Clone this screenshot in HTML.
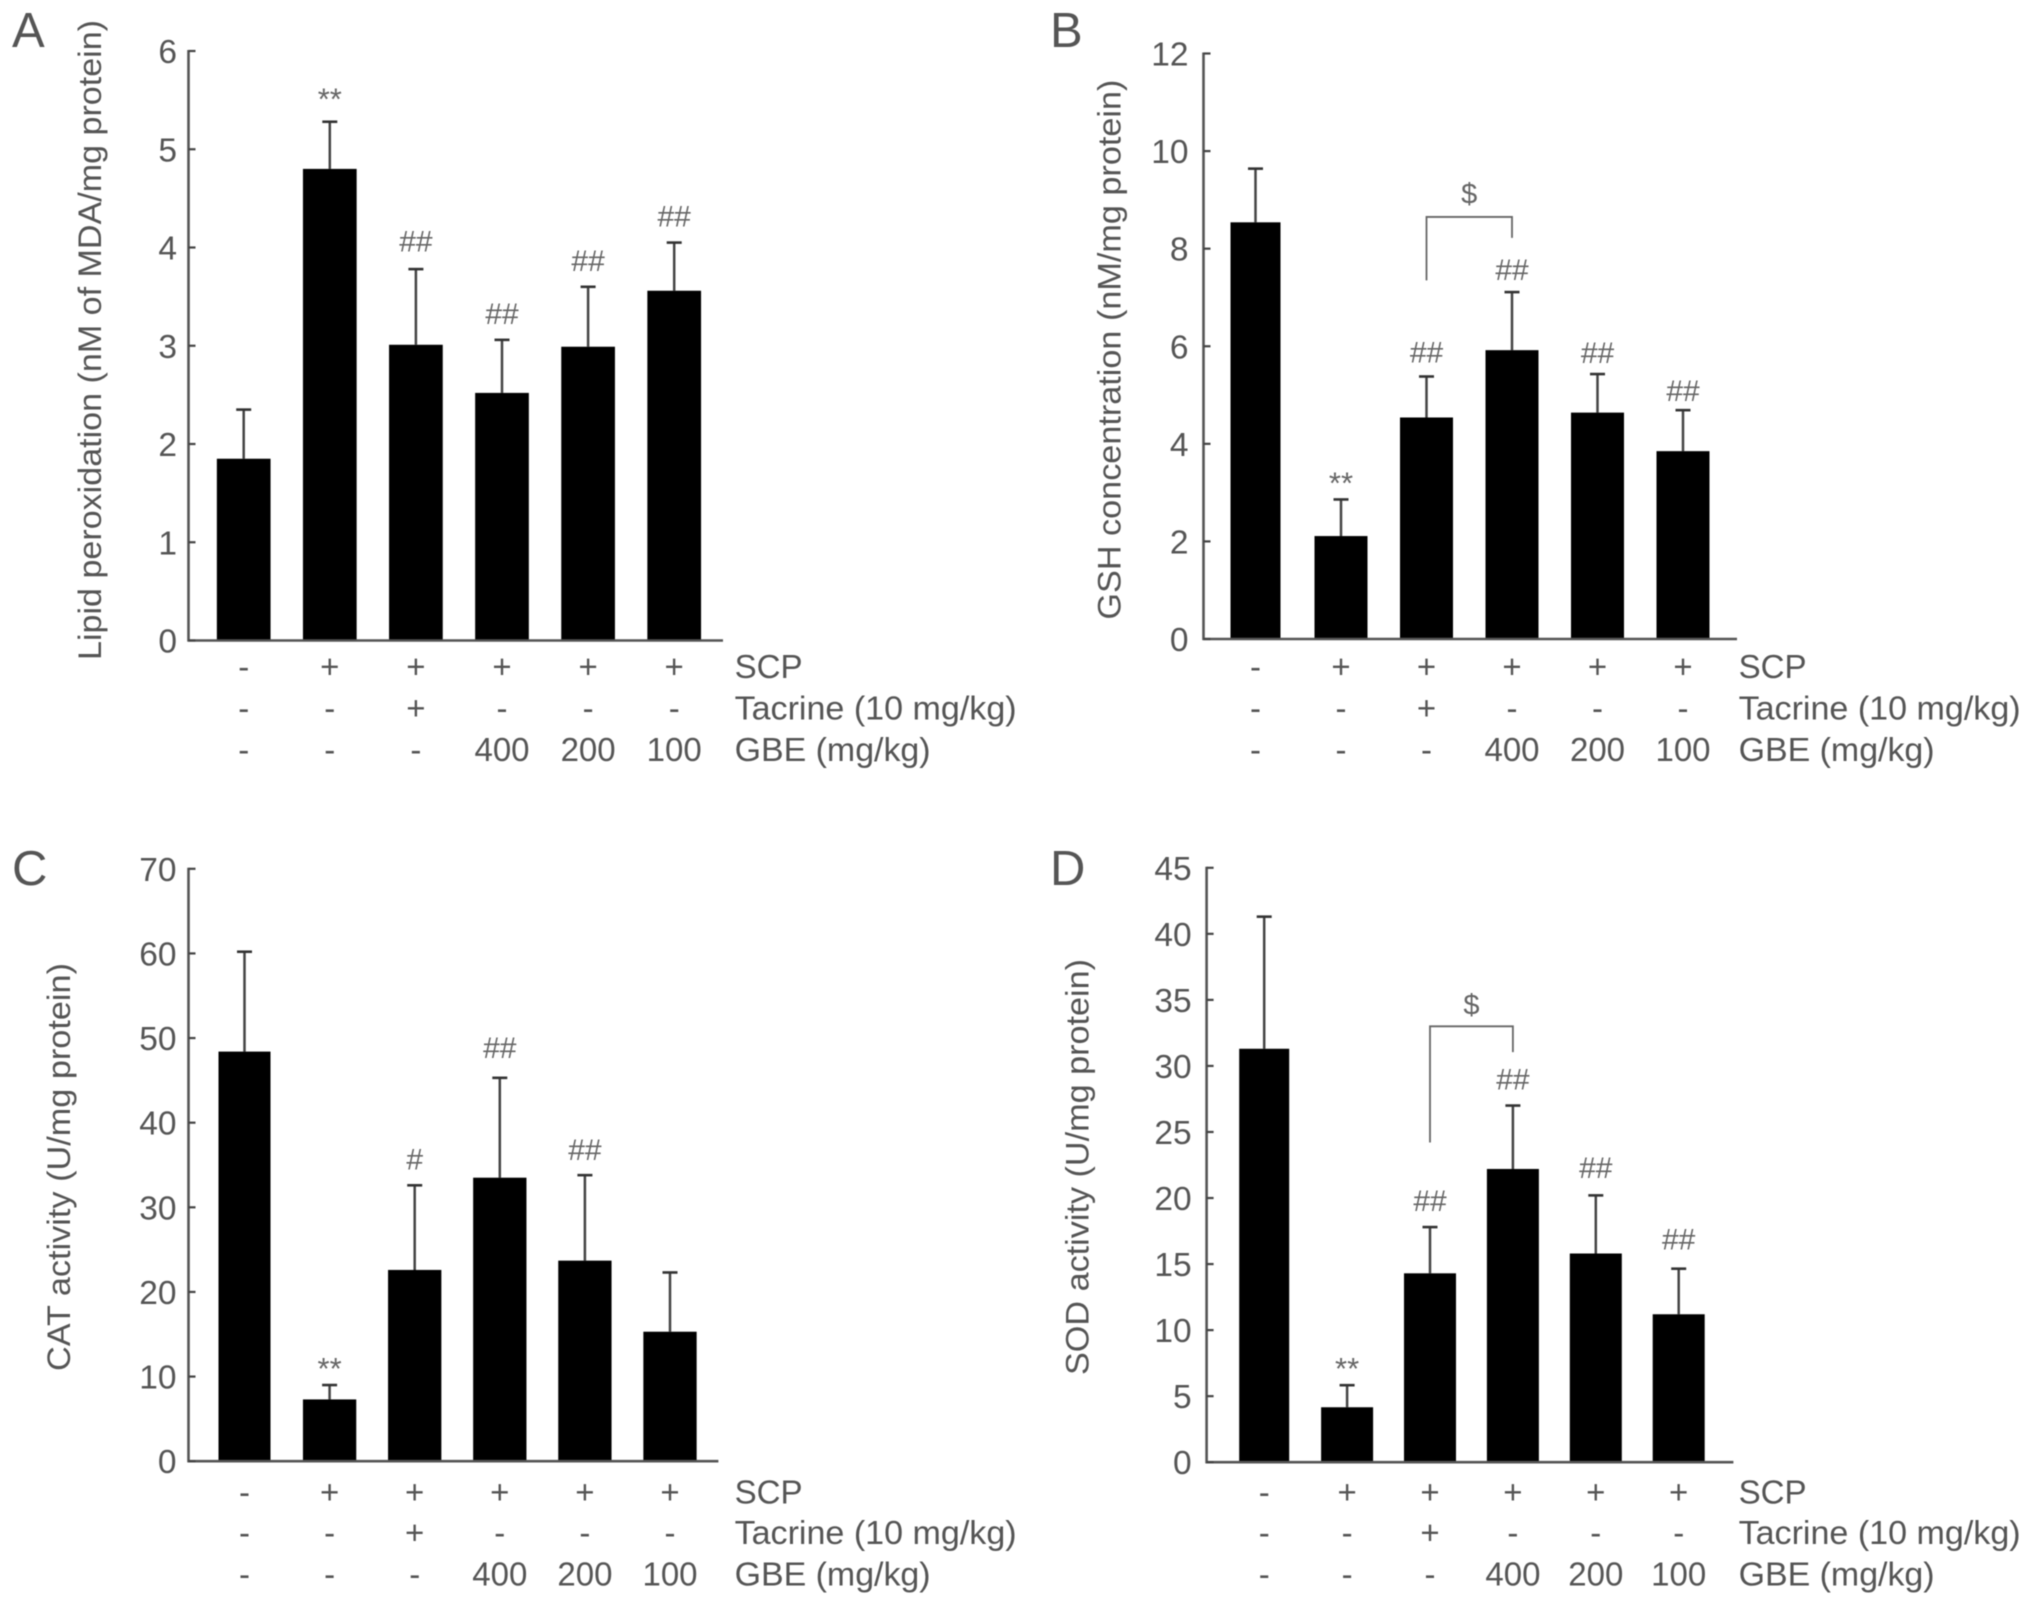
<!DOCTYPE html>
<html lang="en">
<head>
<meta charset="utf-8">
<title>Oxidative stress markers, panels A to D</title>
<style>
html,body{margin:0;padding:0;background:#fff;}
svg{display:block;filter:blur(0.6px);}
text{font-family:"Liberation Sans",Arial,sans-serif;fill:#555;}
</style>
</head>
<body>
<svg id="figure" xmlns="http://www.w3.org/2000/svg" width="2031" height="1605" viewBox="0 0 2031 1605"></svg>
<script>
// ---- Data ----
const rowScp = ['-', '+', '+', '+', '+', '+'];
const rowTacrine = ['-', '-', '+', '-', '-', '-'];
const rowGbe = ['-', '-', '-', '400', '200', '100'];
const rowLabels = ['SCP', 'Tacrine (10 mg/kg)', 'GBE (mg/kg)'];

const ticksA = [0, 1, 2, 3, 4, 5, 6];
const meansA = [1.85, 4.80, 3.01, 2.52, 2.99, 3.56];
const errorsA = [0.50, 0.48, 0.77, 0.54, 0.61, 0.49];
const marksA = ['', '**', '##', '##', '##', '##'];

const ticksB = [0, 2, 4, 6, 8, 10, 12];
const meansB = [8.54, 2.11, 4.54, 5.92, 4.64, 3.85];
const errorsB = [1.10, 0.75, 0.84, 1.19, 0.79, 0.84];
const marksB = ['', '**', '##', '##', '##', '##'];

const ticksC = [0, 10, 20, 30, 40, 50, 60, 70];
const meansC = [48.4, 7.3, 22.6, 33.5, 23.7, 15.3];
const errorsC = [11.8, 1.7, 10.0, 11.8, 10.1, 7.0];
const marksC = ['', '**', '#', '##', '##', ''];

const ticksD = [0, 5, 10, 15, 20, 25, 30, 35, 40, 45];
const meansD = [31.3, 4.16, 14.3, 22.2, 15.8, 11.2];
const errorsD = [10.0, 1.67, 3.5, 4.8, 4.4, 3.45];
const marksD = ['', '**', '##', '##', '##', '##'];

// ---- Layout (pixels), separate from the data ----
const panels = [
  {id:'a', letter:'A', lx:12, ly:47, title:'Lipid peroxidation (nM of MDA/mg protein)', tx:92.5, ty:340, tlen:640,
   ticks:ticksA, means:meansA, errors:errorsA, marks:marksA, tickGap:11.5,
   ax:188.5, top:51, y0:640.5, end:723, cx0:243.7, step:86.1, barW:53.7, firstW:53.7,
   gaps:[0,25,26.5,25,25,25], rows:[678,719.5,761], labelX:734.6, bracket:null},
  {id:'b', letter:'B', lx:1050, ly:47, title:'GSH concentration (nM/mg protein)', tx:1112, ty:349.6, tlen:540,
   ticks:ticksB, means:meansB, errors:errorsB, marks:marksB, tickGap:15,
   ax:1203.5, top:53.5, y0:639, end:1737, cx0:1255.5, step:85.5, barW:53, firstW:50,
   gaps:[0,19,23,21,20,18], rows:[678,719.5,761], labelX:1738.6,
   bracket:{from:2, to:3, topV:8.65, leftV:7.35, rightV:8.22, dollarV:9.13}},
  {id:'c', letter:'C', lx:12, ly:885, title:'CAT activity (U/mg protein)', tx:61.5, ty:1167, tlen:408,
   ticks:ticksC, means:meansC, errors:errorsC, marks:marksC, tickGap:12,
   ax:188.5, top:868.8, y0:1461.2, end:718.4, cx0:244.5, step:85.1, barW:53.3, firstW:52,
   gaps:[0,19,25,29,24,0], rows:[1503.5,1544,1585.4], labelX:734.6, bracket:null},
  {id:'d', letter:'D', lx:1050, ly:885, title:'SOD activity (U/mg protein)', tx:1080, ty:1167, tlen:416,
   ticks:ticksD, means:meansD, errors:errorsD, marks:marksD, tickGap:15,
   ax:1206.6, top:867.8, y0:1462.2, end:1733.4, cx0:1264.2, step:82.9, barW:52, firstW:50,
   gaps:[0,19,25,25,26.5,28], rows:[1503.5,1544,1585.4], labelX:1738.6,
   bracket:{from:2, to:3, topV:33.0, leftV:24.2, rightV:31.05, dollarV:34.66}}
];

const NS = 'http://www.w3.org/2000/svg';
const svg = document.getElementById('figure');

function make(tag, parent, attrs) {
  const el = document.createElementNS(NS, tag);
  for (const k in attrs) el.setAttribute(k, attrs[k]);
  parent.appendChild(el);
  return el;
}
function label(parent, str, attrs) {
  const el = make('text', parent, attrs);
  el.textContent = str;
  return el;
}

panels.forEach(function (p) {
  const g = make('g', svg, {});
  
  

  const maxTick = p.ticks[p.ticks.length - 1];
  const yOf = function (v) { return p.y0 - (v / maxTick) * (p.y0 - p.top); };
  const xOf = function (i) { return p.cx0 + i * p.step; };

  const letter = label(g, p.letter, {x: p.lx, y: p.ly, 'font-size': 49});
  
  

  const title = label(g, p.title, {
    x: 0, y: 0, 'font-size': 32, 'text-anchor': 'middle',
    textLength: p.tlen, lengthAdjust: 'spacingAndGlyphs',
    transform: 'translate(' + (p.tx + 8.5) + ',' + p.ty + ') rotate(-90)'
  });
  
  

  // bars and error bars
  p.means.forEach(function (m, i) {
    const w = i === 0 ? p.firstW : p.barW;
    const top = yOf(m + p.errors[i]);

    const stem = make('line', g, {x1: xOf(i), x2: xOf(i), y1: yOf(m), y2: top, stroke: '#444', 'stroke-width': 2.5});
    
    

    const cap = make('line', g, {x1: xOf(i) - 7.5, x2: xOf(i) + 7.5, y1: top, y2: top, stroke: '#333', 'stroke-width': 2.6});
    
    

    const bar = make('rect', g, {x: xOf(i) - w / 2, y: yOf(m), width: w, height: p.y0 - yOf(m), fill: '#000'});
    
    

    if (p.marks[i]) {
      const isStar = p.marks[i].charAt(0) === '*';
      const mark = label(g, p.marks[i], {
        x: xOf(i), y: top - p.gaps[i] + (isStar ? 13 : 9), 'font-size': isStar ? 31 : 30, 'text-anchor': 'middle', style: 'fill:#666'
      });
      
      
    }
  });

  // axes
  const yAxis = make('line', g, {x1: p.ax, x2: p.ax, y1: p.top - 1, y2: p.y0 + 1, stroke: '#555', 'stroke-width': 2.6});
  
  

  const xAxis = make('line', g, {x1: p.ax - 1, x2: p.end, y1: p.y0, y2: p.y0, stroke: '#555', 'stroke-width': 2.6});
  
  

  p.ticks.forEach(function (t) {
    const tick = make('line', g, {x1: p.ax, x2: p.ax + 7, y1: yOf(t), y2: yOf(t), stroke: '#444', 'stroke-width': 2.2});
    
    

    const tl = label(g, String(t), {x: p.ax - p.tickGap, y: yOf(t) + 12, 'font-size': 33.5, 'text-anchor': 'end'});
    
    
  });

  // treatment rows
  [rowScp, rowTacrine, rowGbe].forEach(function (row, r) {
    row.forEach(function (s, i) {
      const cell = label(g, s, {x: xOf(i), y: p.rows[r], 'font-size': 33, 'text-anchor': 'middle'});
      
      
    });
  });
  const rowWidths = [68, 282, 196];
  rowLabels.forEach(function (s, r) {
    const rl = label(g, s, {x: p.labelX, y: p.rows[r], 'font-size': 33, textLength: rowWidths[r], lengthAdjust: 'spacingAndGlyphs'});
    
    
  });

  // comparison bracket
  if (p.bracket) {
    const b = p.bracket;
    const path = make('path', g, {
      d: 'M' + xOf(b.from) + ' ' + yOf(b.leftV) + ' V' + yOf(b.topV) + ' H' + xOf(b.to) + ' V' + yOf(b.rightV),
      fill: 'none', stroke: '#666', 'stroke-width': 1.8
    });
    
    

    const dollar = label(g, '$', {
      x: (xOf(b.from) + xOf(b.to)) / 2, y: yOf(b.dollarV) + 10, 'font-size': 29, 'text-anchor': 'middle', style: 'fill:#666'
    });
    
    
  }
});
</script>
</body>
</html>
